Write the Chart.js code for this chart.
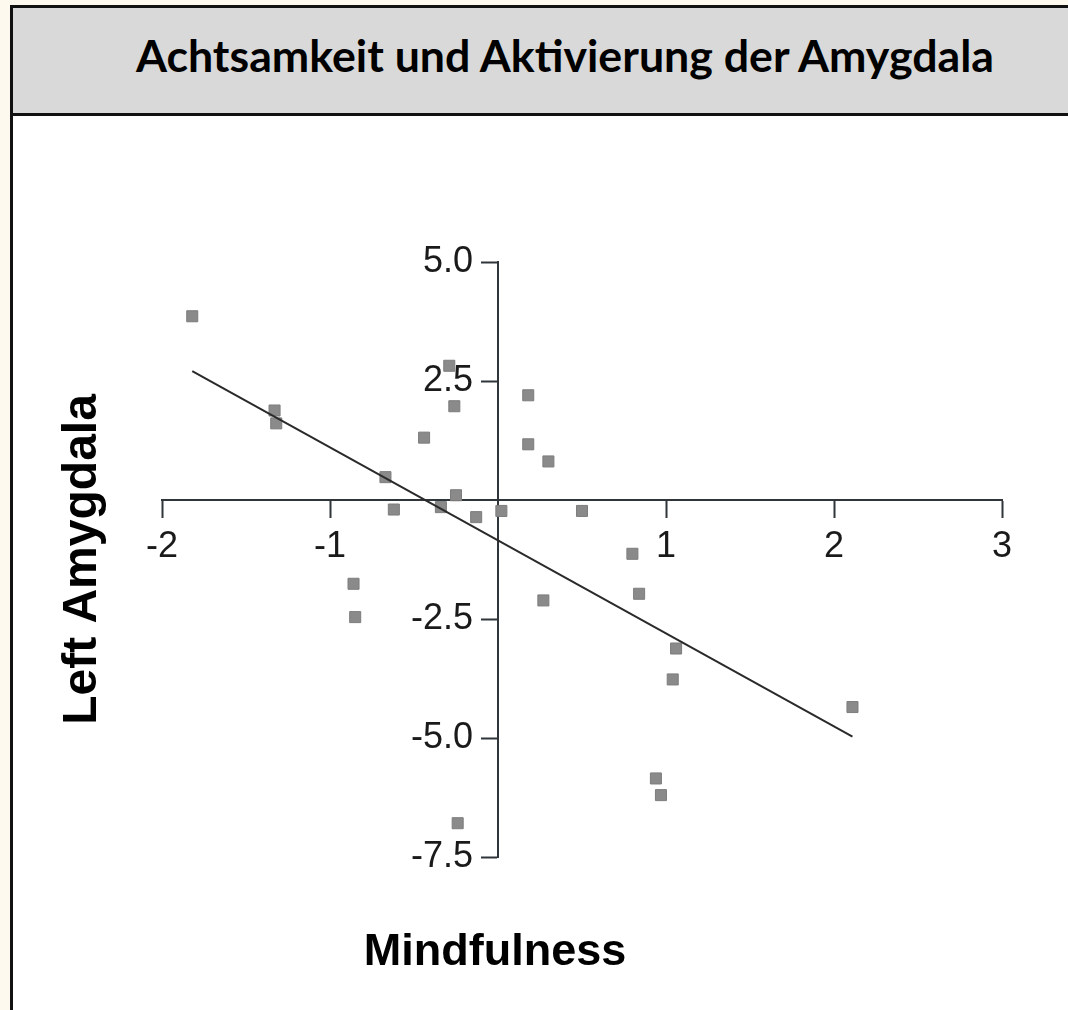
<!DOCTYPE html>
<html>
<head>
<meta charset="utf-8">
<script src="https://cdn.jsdelivr.net/npm/chart.js@4.4.1/dist/chart.umd.min.js"></script>
<style>
  html, body { margin: 0; padding: 0; width: 1068px; height: 1010px; overflow: hidden; background: #fef9ee; }
  #frame { position: absolute; left: 10px; top: 5px; width: 1200px; height: 1100px; border: 3px solid #111; background: #ffffff; }
  #header { position: absolute; left: 0; top: 0; width: 1104px; height: 105px; background: #d9d9d9; border-bottom: 3px solid #111;
            font-family: 'Lato', 'Open Sans', sans-serif; font-weight: 700; font-size: 44.7px; color: #000; text-align: center; line-height: 95px; }
  #chart { position: absolute; left: -12px; top: 116px; }
</style>
</head>
<body>
<div id="frame"><div id="header">Achtsamkeit und Aktivierung der Amygdala</div></div>
<canvas id="chart" width="1034" height="867"></canvas>
<script>
// Mindfulness (x) and Left Amygdala (y) values
const mindfulness = [-1.82, -1.33, -1.32, -0.86, -0.85, -0.67, -0.62, -0.44, -0.34, -0.29, -0.26, -0.25, -0.24, -0.13,
                     0.02, 0.18, 0.18, 0.27, 0.30, 0.50, 0.80, 0.84, 0.94, 0.97, 1.04, 1.06, 2.11];
const leftAmygdala = [3.86, 1.88, 1.61, -1.76, -2.46, 0.48, -0.20, 1.31, -0.15, 2.82, 1.97, 0.10, -6.79, -0.36,
                      -0.23, 2.20, 1.17, -2.11, 0.81, -0.23, -1.13, -1.97, -5.85, -6.20, -3.77, -3.12, -4.35];
// regression line end points
const fitX = [-1.82, 2.11];
const fitY = [2.71, -4.97];
const xTicks = [-2, -1, 0, 1, 2, 3];
const yTicks = [-7.5, -5.0, -2.5, 0, 2.5, 5.0];
const xTitle = 'Mindfulness';
const yTitle = 'Left Amygdala';
// the axes cross at the origin; y tick labels sit just left of the y-axis tick marks
const axisCross = 0;
const yLabelAnchor = -0.148;

const points = mindfulness.map((x, i) => ({ x: x, y: leftAmygdala[i] }));
const fit = fitX.map((x, i) => ({ x: x, y: fitY[i] }));

Chart.defaults.font.family = "'Liberation Sans', Arial, Helvetica, sans-serif";
Chart.defaults.color = '#1a1a1a';

const axisColor = '#2f3538';
const yRange = { min: yTicks[0], max: yTicks[yTicks.length - 1] };
const setYTicks = (s) => { s.ticks = yTicks.map(v => ({ value: v })); };
const yLabel = (v) => v === 0 ? null : v.toFixed(1);

new Chart(document.getElementById('chart'), {
  type: 'scatter',
  data: {
    datasets: [
      { type: 'line', data: fit, borderColor: '#2a2a2a', borderWidth: 2, pointRadius: 0, fill: false, order: 1 },
      { data: points, pointStyle: 'rect', pointRadius: 7.8, backgroundColor: '#8a8a8a', borderColor: '#7d7d7d', borderWidth: 1, order: 2 }
    ]
  },
  options: {
    responsive: false,
    animation: false,
    devicePixelRatio: 1,
    layout: { padding: { top: 146, left: 0, right: 20, bottom: 0 } },
    plugins: {
      legend: { display: false },
      tooltip: { enabled: false },
      title: { display: true, text: yTitle, position: 'left', fullSize: false, color: '#000',
               font: { size: 48, weight: 'bold', lineHeight: 1 }, padding: { top: 70.5, bottom: 55.5 } },
      subtitle: { display: true, text: xTitle, position: 'bottom', fullSize: true, color: '#000',
                  font: { size: 45, weight: 'bold', lineHeight: 1 }, padding: { top: 73.5, bottom: 7.5 } }
    },
    scales: {
      x: {
        type: 'linear', position: { y: axisCross }, min: xTicks[0], max: xTicks[xTicks.length - 1],
        afterBuildTicks: (s) => { s.ticks = xTicks.map(v => ({ value: v })); },
        ticks: { font: { size: 36 }, padding: 8, color: '#1a1a1a', callback: (v) => v === 0 ? null : String(v) },
        grid: { display: true, drawOnChartArea: false, drawTicks: true, tickLength: 17, tickWidth: 2, tickColor: axisColor },
        border: { display: true, color: axisColor, width: 2 }
      },
      y: {
        type: 'linear', position: { x: axisCross }, min: yRange.min, max: yRange.max,
        afterBuildTicks: setYTicks,
        ticks: { display: false, callback: yLabel },
        grid: { display: true, drawOnChartArea: false, drawTicks: true, tickLength: 16, tickWidth: 2, tickColor: axisColor },
        border: { display: true, color: axisColor, width: 2 }
      },
      yLab: {
        axis: 'y', type: 'linear', position: { x: yLabelAnchor }, min: yRange.min, max: yRange.max,
        afterBuildTicks: setYTicks,
        ticks: { font: { size: 36 }, color: '#1a1a1a', callback: yLabel },
        grid: { display: false },
        border: { display: false }
      }
    }
  }
});
</script>
</body>
</html>
